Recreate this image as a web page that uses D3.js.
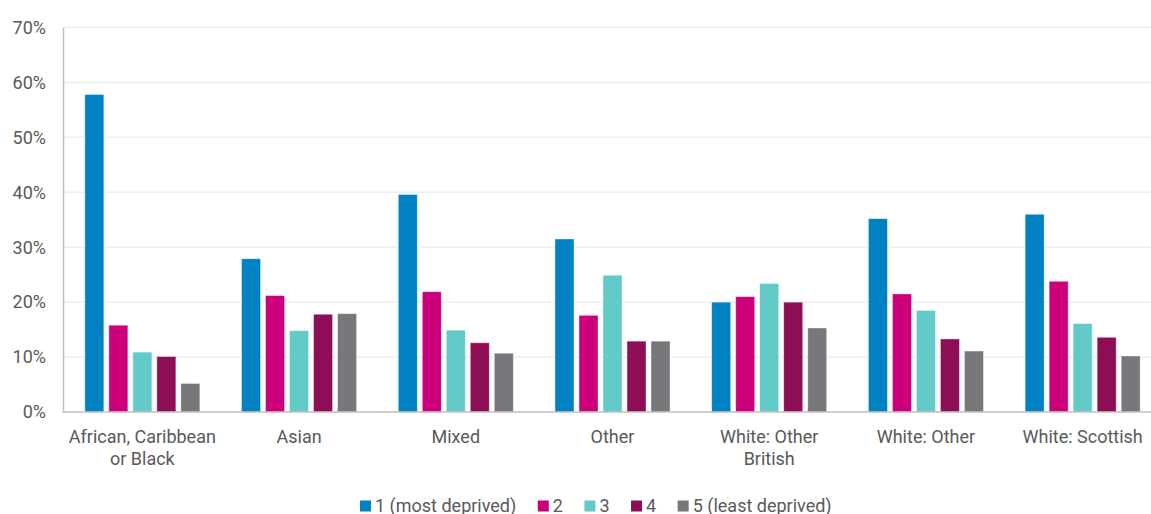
<!DOCTYPE html>
<html>
<head>
<meta charset="utf-8">
<script src="https://cdn.jsdelivr.net/npm/d3@7"></script>
<style>
  html, body { margin: 0; padding: 0; background: #fff; }
  svg { display: block; font-family: Roboto, "Noto Sans", sans-serif; }
</style>
</head>
<body>
<svg id="chart" width="1151" height="514"></svg>
<script>
const categories = [
  ["African, Caribbean", "or Black"],
  ["Asian"],
  ["Mixed"],
  ["Other"],
  ["White: Other", "British"],
  ["White: Other"],
  ["White: Scottish"]
];
const seriesNames = ["1 (most deprived)", "2", "3", "4", "5 (least deprived)"];
const seriesColors = ["#0081C1", "#CC007A", "#62CAC7", "#8E0E55", "#77787B"];
const s1 = [57.8, 27.9, 39.6, 31.5, 20.0, 35.2, 36.0];
const s2 = [15.8, 21.2, 21.9, 17.6, 21.0, 21.5, 23.8];
const s3 = [10.9, 14.8, 14.9, 24.9, 23.4, 18.5, 16.1];
const s4 = [10.1, 17.8, 12.6, 12.9, 20.0, 13.3, 13.6];
const s5 = [5.2, 17.9, 10.7, 12.9, 15.3, 11.1, 10.2];
const yTicks = [0, 10, 20, 30, 40, 50, 60, 70];

const seriesValues = [s1, s2, s3, s4, s5];
const svg = d3.select("#chart");
const textColor = "#595959";

const plotLeft = 64, plotRight = 1161, plotTop = 27.5, plotBottom = 412;

const y = d3.scaleLinear().domain([0, 70]).range([plotBottom, plotTop]);
const catIdx = d3.range(categories.length);
const x0 = d3.scaleBand().domain(catIdx).range([plotLeft, plotRight])
  .paddingInner(0.266).paddingOuter(0.133);
const x1 = d3.scaleBand().domain(d3.range(seriesNames.length))
  .range([0, x0.bandwidth()]).paddingInner(0.2083).paddingOuter(0);

// gridlines
svg.append("g").selectAll("line").data(yTicks.filter(d => d > 0)).join("line")
  .attr("x1", plotLeft).attr("x2", plotRight)
  .attr("y1", d => y(d)).attr("y2", d => y(d))
  .attr("stroke", "#EFEFEF").attr("stroke-width", 1.5);

// y tick labels
svg.append("g").selectAll("text").data(yTicks).join("text")
  .attr("x", 46).attr("y", d => y(d)).attr("dy", "0.35em")
  .attr("text-anchor", "end").attr("fill", textColor)
  .attr("font-size", "18px")
  .text(d => d + "%");

// bars
const groups = svg.append("g").selectAll("g").data(catIdx).join("g")
  .attr("transform", i => `translate(${x0(i)},0)`);
groups.selectAll("rect")
  .data(i => seriesValues.map((vals, s) => ({ s, v: vals[i] })))
  .join("rect")
  .attr("x", d => x1(d.s))
  .attr("width", x1.bandwidth())
  .attr("y", d => y(d.v))
  .attr("height", d => y(0) - y(d.v))
  .attr("fill", d => seriesColors[d.s])
  .attr("stroke", "rgba(255,255,255,0.5)").attr("stroke-width", 0.8);

// axes lines
svg.append("line").attr("x1", 63.5).attr("x2", 63.5).attr("y1", plotTop).attr("y2", plotBottom + 1)
  .attr("stroke", "#BFBFBF").attr("stroke-width", 1.5);
svg.append("line").attr("x1", 63).attr("x2", plotRight).attr("y1", plotBottom).attr("y2", plotBottom)
  .attr("stroke", "#BFBFBF").attr("stroke-width", 1.5);

// category labels
const labs = svg.append("g").selectAll("text").data(catIdx).join("text")
  .attr("x", i => x0(i) + x0.bandwidth() / 2)
  .attr("y", 443)
  .attr("text-anchor", "middle").attr("fill", textColor)
  .attr("font-size", "18px");
labs.selectAll("tspan").data(i => categories[i].map((t, k) => ({ t, k, i }))).join("tspan")
  .attr("x", d => x0(d.i) + x0.bandwidth() / 2)
  .attr("dy", d => d.k === 0 ? 0 : 21.5)
  .text(d => d.t);

// legend
const legend = svg.append("g");
let lx = 360;
seriesNames.forEach((name, s) => {
  const g = legend.append("g").attr("transform", `translate(${lx},0)`);
  g.append("rect").attr("x", 0).attr("y", 500.5).attr("width", 11).attr("height", 11)
    .attr("fill", seriesColors[s]);
  const t = g.append("text").attr("x", 15).attr("y", 511.5).attr("fill", textColor)
    .attr("font-size", "18px").text(name);
  const w = t.node().getComputedTextLength();
  lx += 15 + w + 21.5;
});
</script>
</body>
</html>
